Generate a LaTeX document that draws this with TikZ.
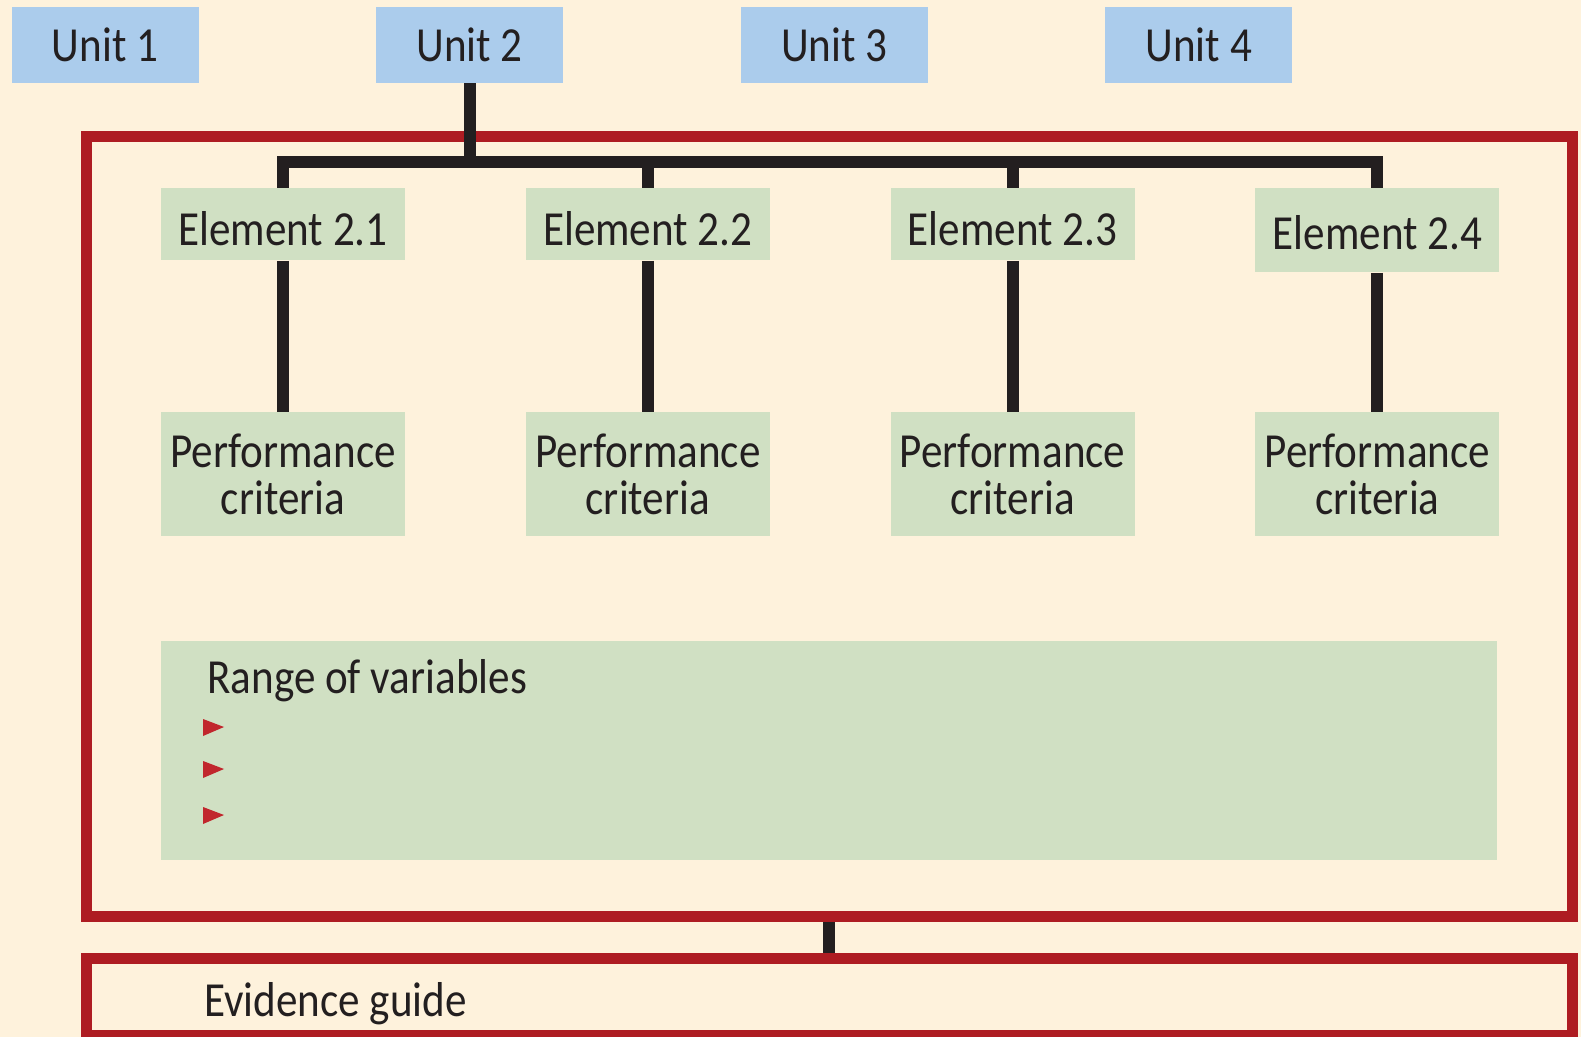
\documentclass[tikz,border=0pt]{standalone}
\usepackage{fontspec}
\setmainfont{Carlito}[FakeStretch=0.88]
\usepackage{tikz}
\usetikzlibrary{positioning, calc}
\usepackage{xcolor}
\definecolor{cream}{RGB}{254, 242, 220}
\definecolor{unitblue}{RGB}{171, 204, 236}
\definecolor{leafgreen}{RGB}{208, 224, 195}
\definecolor{framered}{RGB}{174, 28, 34}
\definecolor{inkdark}{RGB}{35, 31, 32}
\definecolor{bulletred}{RGB}{193, 39, 45}
\tikzstyle{unitbox} = [rectangle, minimum width=93.5pt, minimum height=38pt, inner xsep=0pt, text centered, fill=unitblue, text=inkdark, font=\fontsize{24.5}{23.5}\selectfont]
\tikzstyle{element} = [rectangle, minimum width=122pt, minimum height=36pt, inner xsep=0pt, text height=21pt, text depth=0pt, text centered, fill=leafgreen, text=inkdark, font=\fontsize{24.5}{23.5}\selectfont]
\tikzstyle{criteria} = [rectangle, minimum width=122pt, minimum height=62pt, inner xsep=0pt, align=center, fill=leafgreen, text=inkdark, font=\fontsize{24.5}{23.5}\selectfont]
\tikzstyle{frame} = [rectangle, draw=framered, line width=5.5pt, minimum width=743pt]
\tikzstyle{heading} = [text=inkdark, inner sep=0pt, font=\fontsize{24.5}{23.5}\selectfont]
\tikzstyle{link} = [draw=inkdark, line width=6pt]

\begin{document}
\begin{tikzpicture}[x=0.5pt, y=-0.5pt]
    % Background
    \clip (0,0) rectangle (1581,1037);
    \fill[cream] (0,0) rectangle (1581,1037);

    % Units
    \node (unit1) [unitbox] at (105,45) {Unit 1};
    \node (unit2) [unitbox, right=88.4pt of unit1] {Unit 2};
    \node (unit3) [unitbox, right=88.4pt of unit2] {Unit 3};
    \node (unit4) [unitbox, right=88.4pt of unit3] {Unit 4};

    % Frames
    \node (unitframe) [frame, minimum height=389.75pt] at (829,526.75) {};
    \node (evidence) [frame, minimum height=38.5pt, below=15.5pt of unitframe] {};

    % Elements and criteria
    \node (e21) [element, anchor=north] at (283,188) {Element 2.1};
    \node (e22) [element, right=60pt of e21] {Element 2.2};
    \node (e23) [element, right=60pt of e22] {Element 2.3};
    \node (e24) [element, text height=19pt, minimum height=42pt, right=60pt of e23.north east, anchor=north west] {Element 2.4};

    \node (p21) [criteria, below=75.5pt of e21] {Performance\\criteria};
    \node (p22) [criteria, right=60pt of p21] {Performance\\criteria};
    \node (p23) [criteria, right=60pt of p22] {Performance\\criteria};
    \node (p24) [criteria, right=60pt of p23] {Performance\\criteria};

    % Range of variables
    \node (range) [rectangle, fill=leafgreen, minimum width=668pt, minimum height=109.5pt, below=52pt of p21.south west, anchor=north west] {};
    \node (rangetitle) [heading, anchor=base west] at (207,694) {Range of variables};
    \fill[bulletred] (203,719) -- (224,727) -- (203,736) -- cycle;
    \fill[bulletred] (203,761) -- (224,769) -- (203,778) -- cycle;
    \fill[bulletred] (203,807) -- (224,815) -- (203,824) -- cycle;

    \node (evidencetitle) [heading, anchor=base west] at (204,1016) {Evidence guide};

    % Connectors
    \coordinate (bar) at ($(unit2.south)+(0,78.5)$);
    \draw [link] (unit2.south) -- (bar);
    \draw [link] (e21.north) |- (bar) -| (e24.north);
    \draw [link] (e22.north) -- (e22.north |- bar);
    \draw [link] (e23.north) -- (e23.north |- bar);

    \draw [link] (e21) -- (p21);
    \draw [link] (e22) -- (p22);
    \draw [link] (e23) -- (p23);
    \draw [link] (e24) -- (p24);

    \draw [link] (unitframe.south) -- (evidence.north);
\end{tikzpicture}
\end{document}
